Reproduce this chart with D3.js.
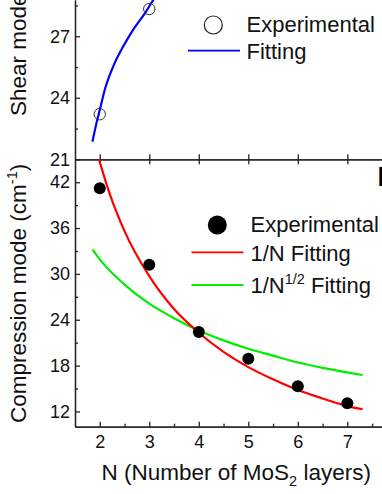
<!DOCTYPE html>
<html>
<head>
<meta charset="utf-8">
<script src="https://cdnjs.cloudflare.com/ajax/libs/d3/7.8.5/d3.min.js"></script>
<style>
  body { margin: 0; background: #fff; }
  svg { display: block; font-family: "Liberation Sans", Arial, sans-serif; }
  .axis path, .axis line { stroke: #222; stroke-width: 1.3; }
  .axis text { font-size: 18px; fill: #111; font-family: "Liberation Sans", Arial, sans-serif; }
  .label { font-size: 22.5px; fill: #111; }
  .legend { font-size: 22px; fill: #111; }
</style>
</head>
<body>
<div id="chart"></div>
<script>
// Data
var shearN = [2, 3],
    shearExp = [23.2, 28.33];

// blue fitting curve (shear)
var shearFitN = [1.853, 1.933, 2.0, 2.1, 2.27, 2.47, 2.67, 2.91, 3.08, 3.2],
    shearFitVal = [21.86, 22.76, 23.4, 24.38, 25.52, 26.49, 27.3, 28.12, 28.77, 29.2];

var compN = [2, 3, 4, 5, 6, 7],
    compExp = [41.2, 31.2, 22.4, 18.9, 15.3, 13.07];

// red 1/N fitting curve
var invFitN = [1.97, 2.2, 2.5, 3, 3.5, 4, 4.5, 5, 5.5, 6, 6.5, 7, 7.31],
    invFitVal = [45.3, 40.5, 35.6, 29.7, 25.4, 22.3, 19.8, 17.8, 16.2, 14.8, 13.7, 12.7, 12.28];

// green 1/N^1/2 fitting curve
var sqrtFitN = [1.853, 2, 2.5, 3, 3.5, 4, 4.5, 5, 5.5, 6, 6.5, 7, 7.31],
    sqrtFitVal = [33.2, 31.9, 28.6, 26.1, 24.2, 22.6, 21.3, 20.2, 19.3, 18.4, 17.7, 17.1, 16.75];

var xTicks = [2, 3, 4, 5, 6, 7],
    xMinor = [2.5, 3.5, 4.5, 5.5, 6.5, 7.5],
    topTicks = [21, 24, 27],
    topMinor = [22.5, 25.5, 28.5],
    botTicks = [12, 18, 24, 30, 36, 42],
    botMinor = [15, 21, 27, 33, 39];

var width = 382, height = 494,
    left = 75, midY = 159.3, bottomY = 426.7;

var svg = d3.select("#chart").append("svg")
    .attr("width", width)
    .attr("height", height);

// scales
var x = d3.scaleLinear().domain([1.5, 7.7]).range([left, 382]);
var yTop = d3.scaleLinear().domain([21, 28.77]).range([midY, 0]);
var yBot = d3.scaleLinear().domain([10, 45]).range([bottomY, midY]);

// clip paths
var defs = svg.append("defs");
defs.append("clipPath").attr("id", "clipTop")
    .append("rect").attr("x", left).attr("y", 0).attr("width", width - left).attr("height", midY);
defs.append("clipPath").attr("id", "clipBot")
    .append("rect").attr("x", left).attr("y", midY).attr("width", width - left).attr("height", bottomY - midY);

// bottom x axis
svg.append("g").attr("class", "axis")
    .attr("transform", "translate(0," + bottomY + ")")
    .call(d3.axisBottom(x).tickValues(xMinor).tickSize(-3).tickSizeOuter(0).tickFormat(""));
svg.append("g").attr("class", "axis")
    .attr("transform", "translate(0," + bottomY + ")")
    .call(d3.axisBottom(x).tickValues(xTicks).tickSize(-5).tickSizeOuter(0).tickPadding(9).tickFormat(d3.format("d")));

// shared middle axis, ticks to both sides
svg.append("g").attr("class", "axis")
    .attr("transform", "translate(0," + midY + ")")
    .call(d3.axisBottom(x).tickValues(xTicks).tickSize(5).tickSizeOuter(0).tickFormat(""));
svg.append("g").attr("class", "axis")
    .attr("transform", "translate(0," + midY + ")")
    .call(d3.axisBottom(x).tickValues(xTicks).tickSize(-5).tickSizeOuter(0).tickFormat(""));

// left y axes
svg.append("g").attr("class", "axis")
    .attr("transform", "translate(" + left + ",0)")
    .call(d3.axisLeft(yTop).tickValues(topMinor).tickSize(-3).tickSizeOuter(0).tickFormat(""));
svg.append("g").attr("class", "axis")
    .attr("transform", "translate(" + left + ",0)")
    .call(d3.axisLeft(yTop).tickValues(topTicks).tickSize(-5).tickSizeOuter(0).tickPadding(5).tickFormat(d3.format("d")));
svg.append("g").attr("class", "axis")
    .attr("transform", "translate(" + left + ",0)")
    .call(d3.axisLeft(yBot).tickValues(botMinor).tickSize(-3).tickSizeOuter(0).tickFormat(""));
svg.append("g").attr("class", "axis")
    .attr("transform", "translate(" + left + ",0)")
    .call(d3.axisLeft(yBot).tickValues(botTicks).tickSize(-5).tickSizeOuter(0).tickPadding(5).tickFormat(d3.format("d")));

// make a list of {n, v} points for a line
function pts(ns, vs) {
    return ns.map(function (n, i) { return { n: n, v: vs[i] }; });
}

var lineTop = d3.line().curve(d3.curveMonotoneX)
    .x(function (d) { return x(d.n); })
    .y(function (d) { return yTop(d.v); });
var lineBot = d3.line().curve(d3.curveMonotoneX)
    .x(function (d) { return x(d.n); })
    .y(function (d) { return yBot(d.v); });

// top panel: shear mode
var gTop = svg.append("g").attr("clip-path", "url(#clipTop)");
gTop.append("path")
    .attr("d", lineTop(pts(shearFitN, shearFitVal)))
    .attr("fill", "none").attr("stroke", "#0000ff").attr("stroke-width", 2.2);
gTop.selectAll(".odot")
    .data(pts(shearN, shearExp))
    .enter().append("circle")
    .attr("class", "odot")
    .attr("cx", function (d) { return x(d.n); })
    .attr("cy", function (d) { return yTop(d.v); })
    .attr("r", 5.7)
    .attr("fill", "none").attr("stroke", "#333").attr("stroke-width", 1);

// bottom panel: compression mode
var gBot = svg.append("g").attr("clip-path", "url(#clipBot)");
gBot.append("path")
    .attr("d", lineBot(pts(sqrtFitN, sqrtFitVal)))
    .attr("fill", "none").attr("stroke", "#00ee00").attr("stroke-width", 2.2);
gBot.append("path")
    .attr("d", lineBot(pts(invFitN, invFitVal)))
    .attr("fill", "none").attr("stroke", "#ff0000").attr("stroke-width", 2.2);
gBot.selectAll(".fdot")
    .data(pts(compN, compExp))
    .enter().append("circle")
    .attr("class", "fdot")
    .attr("cx", function (d) { return x(d.n); })
    .attr("cy", function (d) { return yBot(d.v); })
    .attr("r", 6)
    .attr("fill", "#000");

// legends
svg.append("circle").attr("cx", 213.3).attr("cy", 25).attr("r", 9)
    .attr("fill", "none").attr("stroke", "#222").attr("stroke-width", 1.2);
svg.append("text").attr("class", "legend").attr("x", 246.5).attr("y", 31.7).text("Experimental");
svg.append("line").attr("x1", 188).attr("x2", 240).attr("y1", 50.7).attr("y2", 50.7)
    .attr("stroke", "#0000ff").attr("stroke-width", 1.8);
svg.append("text").attr("class", "legend").attr("x", 246.5).attr("y", 59.3).text("Fitting");

svg.append("circle").attr("cx", 217.3).attr("cy", 225).attr("r", 9.5).attr("fill", "#000");
svg.append("text").attr("class", "legend").attr("x", 250.5).attr("y", 231.7).text("Experimental");
svg.append("line").attr("x1", 191.5).attr("x2", 243.5).attr("y1", 252.3).attr("y2", 252.3)
    .attr("stroke", "#ff0000").attr("stroke-width", 1.8);
svg.append("text").attr("class", "legend").attr("x", 250.5).attr("y", 260.7).text("1/N Fitting");
svg.append("line").attr("x1", 191.5).attr("x2", 243.5).attr("y1", 285).attr("y2", 285)
    .attr("stroke", "#00ee00").attr("stroke-width", 1.8);
var l3 = svg.append("text").attr("class", "legend").attr("x", 250.5).attr("y", 293.3);
l3.append("tspan").text("1/N");
l3.append("tspan").attr("dy", -9).style("font-size", "14.5px").text("1/2");
l3.append("tspan").attr("dy", 9).text(" Fitting");

// clipped panel label at the right edge
svg.append("text").attr("x", 377.5).attr("y", 186)
    .style("font-size", "26px").style("font-weight", "bold").attr("fill", "#000").text("b");

// axis labels
var yl1 = svg.append("text").attr("class", "label")
    .attr("transform", "translate(26,116) rotate(-90)")
    .attr("text-anchor", "start");
yl1.append("tspan").text("Shear mode (cm");
yl1.append("tspan").attr("dy", -9).style("font-size", "14.5px").text("-1");
yl1.append("tspan").attr("dy", 9).text(")");

var yl2 = svg.append("text").attr("class", "label")
    .attr("transform", "translate(26,423) rotate(-90)")
    .attr("text-anchor", "start");
yl2.append("tspan").text("Compression mode (cm");
yl2.append("tspan").attr("dy", -9).style("font-size", "14.5px").text("-1");
yl2.append("tspan").attr("dy", 9).text(")");

var xl = svg.append("text").attr("class", "label")
    .attr("x", 101.5).attr("y", 480);
xl.append("tspan").text("N (Number of MoS");
xl.append("tspan").attr("dy", 6).style("font-size", "14.5px").text("2");
xl.append("tspan").attr("dy", -6).text(" layers)");
</script>
</body>
</html>
